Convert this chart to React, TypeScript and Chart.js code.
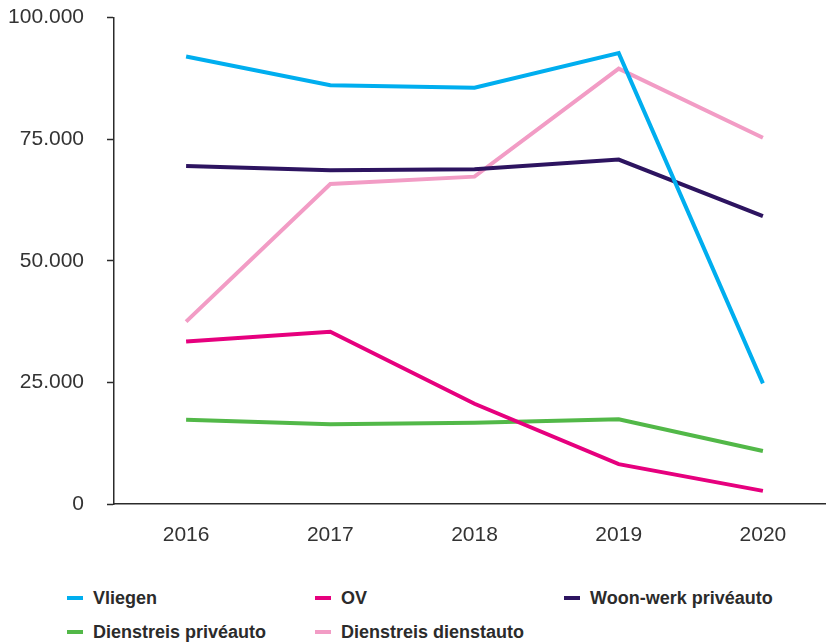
import React, { useEffect, useRef } from "react";
import { Chart, registerables } from "chart.js";

Chart.register(...registerables);

const years = [2016, 2017, 2018, 2019, 2020];
const vliegen = [92000, 86100, 85600, 92700, 24800];
const ov = [33400, 35400, 20600, 8200, 2700];
const woonWerk = [69500, 68600, 68800, 70800, 59200];
const dienstreisPrive = [17300, 16400, 16700, 17400, 10900];
const dienstreisDienst = [37500, 65800, 67300, 89500, 75300];
const yTicks = [0, 25000, 50000, 75000, 100000];

const seriesNames = ["Vliegen", "OV", "Woon-werk privéauto", "Dienstreis privéauto", "Dienstreis dienstauto"];
const seriesColors = ["#00AEEF", "#E6007E", "#2D1460", "#52B848", "#F29CC5"];
const seriesValues = [vliegen, ov, woonWerk, dienstreisPrive, dienstreisDienst];

const FONT = "'Liberation Sans', Arial, Helvetica, sans-serif";

function fmt(v: number): string {
  return String(Math.round(v)).replace(/\B(?=(\d{3})+(?!\d))/g, ".");
}

function ChartCanvas() {
  const ref = useRef<HTMLCanvasElement | null>(null);
  useEffect(() => {
    if (!ref.current) return;
    const chart = new Chart(ref.current, {
      type: "line",
      data: {
        datasets: seriesNames.map((name, i) => ({
          label: name,
          data: years.map((yr, j) => ({ x: yr, y: seriesValues[i][j] })),
          borderColor: seriesColors[i],
          backgroundColor: seriesColors[i],
          borderWidth: 4,
          pointRadius: 0,
          tension: 0,
          borderCapStyle: "butt",
          borderJoinStyle: "miter",
          fill: false,
        })),
      },
      options: {
        responsive: false,
        animation: false,
        layout: { padding: { top: 0, left: 0, right: 0, bottom: 0 } },
        plugins: { legend: { display: false }, tooltip: { enabled: false } },
        scales: {
          x: {
            type: "linear",
            min: 2015.5,
            max: 2020.4375,
            afterFit: (s: any) => {
              s.height = 56;
            },
            grid: { display: false, drawTicks: false },
            border: { display: true, color: "#2b2b2b", width: 1.5 },
            ticks: {
              stepSize: 1,
              includeBounds: false,
              padding: 19,
              color: "#333333",
              font: { family: FONT, size: 21 },
              callback: (v: any) => String(v),
            },
          },
          y: {
            min: 0,
            max: 100000,
            afterFit: (s: any) => {
              s.width = 114;
            },
            afterBuildTicks: (s: any) => {
              s.ticks = yTicks.map((v) => ({ value: v }));
            },
            grid: {
              display: true,
              drawOnChartArea: false,
              drawTicks: true,
              tickLength: 7,
              tickWidth: 1.5,
              tickColor: "#2b2b2b",
            },
            border: { display: true, color: "#2b2b2b", width: 1.5 },
            ticks: {
              stepSize: 25000,
              padding: 23,
              color: "#333333",
              font: { family: FONT, size: 21 },
              callback: (v: any) => fmt(Number(v)),
            },
          },
        },
      } as any,
    });
    return () => chart.destroy();
  }, []);
  return <canvas ref={ref} width={826} height={578} style={{ display: "block", position: "absolute", left: 0, top: -18 }} />;
}

const legendPos = [
  { left: 67, top: 598 },
  { left: 315, top: 598 },
  { left: 564, top: 598 },
  { left: 67, top: 632 },
  { left: 315, top: 632 },
];

export default function App() {
  return (
    <div style={{ position: "absolute", left: 0, top: 0, width: 826, height: 642, background: "#ffffff", overflow: "hidden" }}>
      <ChartCanvas />
      {seriesNames.map((name, i) => (
        <div
          key={name}
          style={{
            position: "absolute",
            left: legendPos[i].left,
            top: legendPos[i].top - 12,
            height: 24,
            display: "flex",
            alignItems: "center",
            whiteSpace: "nowrap",
          }}
        >
          <span style={{ display: "inline-block", width: 16, height: 4, background: seriesColors[i], marginRight: 10 }} />
          <span style={{ fontFamily: FONT, fontWeight: 700, fontSize: 18, color: "#2b2b2b", lineHeight: "24px" }}>{name}</span>
        </div>
      ))}
    </div>
  );
}
